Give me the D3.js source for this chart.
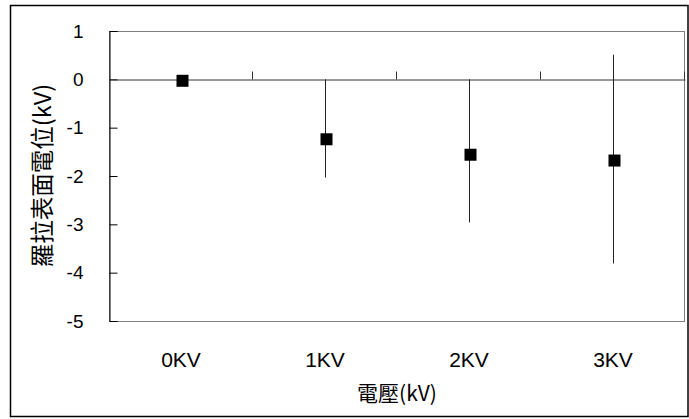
<!DOCTYPE html>
<html><head><meta charset="utf-8">
<script src="https://cdn.jsdelivr.net/npm/d3@7"></script>
<style>body{margin:0;background:#fff}svg{display:block}</style>
</head><body>
<script>
const categories = ["0KV","1KV","2KV","3KV"];
const values = [-0.03, -1.24, -1.56, -1.68];
const errHigh = [null, 0.0, 0.0, 0.51];
const errLow = [null, -2.03, -2.96, -3.81];
const yTicks = [1,0,-1,-2,-3,-4,-5];

const W=689,H=419;
const svg=d3.select("body").append("svg").attr("width",W).attr("height",H);
const font="Arial, 'Liberation Sans', sans-serif";
const cjk="'Noto Sans CJK TC', 'Noto Sans CJK SC', sans-serif";

svg.append("rect").attr("x",10.5).attr("y",5.5).attr("width",677.5).attr("height",411)
  .attr("fill","#fff").attr("stroke","#000").attr("stroke-width",1.5);

const L=109,R=685,T=31,B=321;
const x=d3.scaleBand().domain(categories).range([L,R]).padding(0);
const y=d3.scaleLinear().domain([-5,1]).range([B,T]);

// plot border
svg.append("rect").attr("x",L+0.5).attr("y",T+0.5).attr("width",R-L-1).attr("height",B-T)
  .attr("fill","none").attr("stroke","#808080").attr("stroke-width",1);

// y axis
const ya=svg.append("g").attr("transform",`translate(${L+0.5},0)`)
  .call(d3.axisLeft(y).tickValues(yTicks).tickSize(-8).tickPadding(26).tickFormat(d=>String(d)));
ya.select(".domain").attr("stroke","#000");
ya.selectAll(".tick line").attr("stroke","#000");
ya.selectAll("text").attr("font-family",font).attr("font-size",19).attr("fill","#000");

// zero axis line with category ticks
const xa=svg.append("g").attr("transform",`translate(0,${Math.round(y(0))+0.5})`)
  .call(d3.axisTop(x).tickValues([]).tickSizeOuter(0));
xa.select(".domain").attr("stroke","#333");
const bounds=categories.map(c=>x(c)+x.bandwidth());
xa.selectAll(".bt").data(bounds).enter().append("line").attr("class","bt")
  .attr("x1",d=>Math.round(d)-0.5).attr("x2",d=>Math.round(d)-0.5).attr("y1",0).attr("y2",-8)
  .attr("stroke","#333");

// category labels
svg.append("g").selectAll("text").data(categories).enter().append("text")
  .attr("x",d=>x(d)+x.bandwidth()/2).attr("y",367).attr("text-anchor","middle")
  .attr("font-family",font).attr("font-size",21).text(d=>d);

// error bars
const idx=d3.range(categories.length).filter(i=>errHigh[i]!==null);
svg.append("g").selectAll("line").data(idx).enter().append("line")
  .attr("x1",i=>Math.round(x(categories[i])+x.bandwidth()/2)+0.5)
  .attr("x2",i=>Math.round(x(categories[i])+x.bandwidth()/2)+0.5)
  .attr("y1",i=>y(errHigh[i])).attr("y2",i=>y(errLow[i]))
  .attr("stroke","#222").attr("stroke-width",1);

// markers
const s=12;
svg.append("g").selectAll("rect").data(values).enter().append("rect")
  .attr("x",(d,i)=>x(categories[i])+x.bandwidth()/2-s/2+1.5)
  .attr("y",d=>y(d)-s/2).attr("width",s).attr("height",s).attr("fill","#000");

// axis titles
svg.append("text").attr("transform",`translate(51,175.5) rotate(-90)`)
  .attr("text-anchor","middle").attr("font-family",cjk).attr("font-size",23.5).text("羅拉表面電位(kV)");
svg.append("text").attr("x",397).attr("y",401).attr("text-anchor","middle")
  .attr("font-family",cjk).attr("font-size",21).text("電壓(kV)");
</script>
</body></html>
